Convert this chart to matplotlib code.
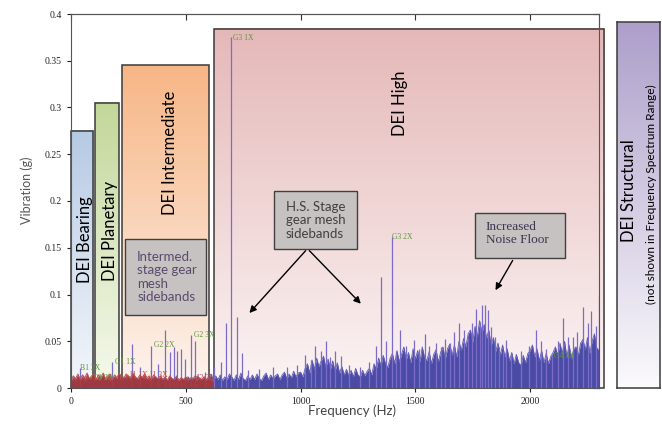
import numpy as np
import matplotlib.pyplot as plt
from matplotlib.colors import LinearSegmentedColormap

# spectrum noise floor, upper envelope every 10 Hz (milli-g)
step_hz = 10
floor_mg = [6, 9, 7, 12, 8, 10, 7, 9, 11, 8,
            7, 10, 8, 9, 12, 8, 10, 7, 9, 11,
            8, 10, 7, 12, 9, 11, 8, 13, 9, 10,
            8, 12, 9, 10, 7, 11, 9, 12, 8, 10,
            9, 11, 8, 12, 10, 9, 13, 8, 11, 9,
            10, 12, 8, 11, 9, 13, 10, 8, 12, 9,
            11, 15, 8, 13, 9, 14, 8, 12, 9, 15,
            12, 8, 14, 9, 16, 10, 8, 13, 9, 14,
            9, 15, 10, 8, 13, 16, 9, 14, 10, 13,
            15, 9, 14, 17, 10, 15, 11, 18, 12, 16,
            17, 12, 21, 26, 16, 30, 20, 32, 23, 29,
            34, 22, 31, 20, 29, 18, 27, 16, 23, 14,
            20, 13, 19, 12, 21, 14, 12, 19, 13, 18,
            21, 14, 26, 20, 32, 24, 35, 26, 22, 32,
            37, 26, 40, 28, 36, 44, 30, 38, 27, 42,
            31, 40, 28, 44, 33, 29, 39, 26, 36, 41,
            28, 38, 44, 31, 42, 47, 35, 46, 33, 50,
            40, 53, 44, 58, 62, 49, 66, 55, 72, 59,
            68, 53, 62, 45, 54, 39, 48, 35, 46, 33,
            42, 29, 38, 26, 36, 27, 24, 35, 27, 37,
            40, 46, 33, 42, 29, 40, 27, 37, 26, 34,
            38, 44, 35, 48, 37, 50, 33, 46, 31, 42,
            44, 35, 48, 52, 41, 54, 37, 50, 58, 43,
            40]

# second (red) trace, low frequency part only
red_mg = [8, 13, 10, 15, 9, 14, 11, 16, 10, 13,
          15, 9, 14, 11, 16, 10, 13, 15, 9, 14,
          11, 16, 12, 10, 15, 13, 11, 16, 12, 10,
          14, 11, 15, 10, 13, 9, 14, 11, 10, 13,
          9, 12, 8, 13, 10, 9, 12, 8, 11, 9,
          12, 8, 11, 9, 13, 8, 11, 9, 12, 8,
          11, 9, 7]

# discrete spectral lines
peak_hz = [40, 179, 266, 300, 349, 380, 410, 432, 450, 463, 480, 498, 524, 541,
           585, 624, 655, 677, 698, 725, 747, 773, 820, 878, 940, 985, 1020, 1044,
           1065, 1087, 1109, 1130, 1150, 1175, 1210, 1260, 1300, 1330, 1349, 1370,
           1397, 1415, 1432, 1460, 1493, 1515, 1541, 1560, 1590, 1610, 1629, 1650,
           1670, 1690, 1710, 1729, 1745, 1764, 1780, 1790, 1804, 1816, 1830, 1845,
           1865, 1880, 1895, 1915, 1960, 1995, 2026, 2048, 2070, 2095, 2120, 2144,
           2166, 2185, 2205, 2231, 2250, 2266, 2288, 2299]
peak_g = [0.021, 0.028, 0.047, 0.022, 0.045, 0.026, 0.062, 0.039, 0.044, 0.040,
          0.042, 0.031, 0.057, 0.050, 0.017, 0.022, 0.028, 0.069, 0.375, 0.076,
          0.037, 0.019, 0.020, 0.022, 0.022, 0.025, 0.035, 0.030, 0.045, 0.040,
          0.050, 0.033, 0.040, 0.034, 0.025, 0.022, 0.028, 0.045, 0.119, 0.050,
          0.161, 0.040, 0.062, 0.045, 0.051, 0.042, 0.058, 0.045, 0.048, 0.044,
          0.052, 0.048, 0.060, 0.069, 0.062, 0.053, 0.070, 0.085, 0.070, 0.089,
          0.089, 0.083, 0.065, 0.055, 0.044, 0.040, 0.051, 0.035, 0.040, 0.045,
          0.062, 0.050, 0.042, 0.035, 0.050, 0.075, 0.055, 0.055, 0.060, 0.087,
          0.070, 0.082, 0.066, 0.100]

# frequency bands
band_names = ['DEI Bearing', 'DEI Planetary', 'DEI Intermediate', 'DEI High']
band_lo = [0, 105, 224, 624]
band_hi = [96, 208, 602, 2323]
band_top = [0.275, 0.305, 0.345, 0.384]
band_top_col = ['#b6cae4', '#c3d79a', '#f7b686', '#e5b8b8']
band_bot_col = ['#f4f7fb', '#f5f9ec', '#fdf4ef', '#fcf4f4']
band_label_x = [61, 170, 431, 1432]
band_label_y = [0.159, 0.168, 0.252, 0.305]

# harmonic labels
harm_text = ['G3 1X', 'G3 2X', 'G2 3X', 'G2 2X', 'G1 1X', 'B1 2X', 'P1 2X', 'G4 3X']
harm_x = [707, 1400, 537, 362, 192, 40, 100, 2105]
harm_y = [0.374, 0.161, 0.057, 0.046, 0.028, 0.021, 0.011, 0.034]
red_text = ['I1 1X', 'I1 3X', 'I2 2X']
red_x = [258, 345, 550]
red_y = [0.014, 0.014, 0.011]

# callouts: box (x0, x1, y0, y1), text anchor
call_text = ['Intermed.\nstage gear\nmesh\nsidebands', 'H.S. Stage\ngear mesh\nsidebands',
             'Increased\nNoise Floor']
call_box = [(237, 590, 0.078, 0.159), (886, 1245, 0.149, 0.211), (1760, 2153, 0.139, 0.187)]
call_xy = [(288, 0.1185), (936, 0.1795), (1807, 0.165)]
call_font = ['Lato', 'Lato', 'Liberation Serif']
call_color = ['#5b4a6b', '#404040', '#3a3550']


def gradient(axis, x0, x1, y0, y1, top, bottom, z):
    cm = LinearSegmentedColormap.from_list('g', [bottom, top])
    img = np.linspace(1, 0, 256).reshape(-1, 1)
    im = axis.imshow(img, cmap=cm, extent=(x0, x1, y0, y1), aspect='auto',
                     origin='upper', zorder=z, vmin=0, vmax=1)
    im.set_clip_on(False)


fig = plt.figure(figsize=(6.62, 4.24), dpi=100)
ax = fig.add_axes([71 / 662, 36 / 424, 528 / 662, 374 / 424])

for i in range(len(band_names)):
    gradient(ax, band_lo[i], band_hi[i], 0, band_top[i], band_top_col[i], band_bot_col[i], 1)
    r = plt.Rectangle((band_lo[i], 0), band_hi[i] - band_lo[i], band_top[i], fill=False,
                      edgecolor='#3a3a3a', lw=1.1, zorder=2, clip_on=False)
    ax.add_patch(r)
    ax.text(band_label_x[i], band_label_y[i], band_names[i], rotation=90, ha='center',
            va='center', fontsize=12, family='Lato', color='black', zorder=6)

freq = np.arange(len(floor_mg)) * step_hz
floor = np.array(floor_mg) / 1000
ax.fill_between(freq, 0, floor, color='#4b4ba6', lw=0, zorder=3)
ax.plot(freq, floor, color='#5c5cb4', lw=0.6, zorder=3)
ax.vlines(peak_hz, 0, peak_g, color='#7a6cc8', lw=0.9, zorder=3)

rfreq = np.arange(len(red_mg)) * step_hz
red = np.array(red_mg) / 1000
ax.fill_between(rfreq, 0, red, color='#a83838', lw=0, zorder=4, alpha=0.9)
ax.plot(rfreq, red, color='#c05050', lw=0.7, zorder=4)

for t, x, y in zip(harm_text, harm_x, harm_y):
    ax.text(x, y, t, fontsize=5.5, family='Liberation Serif', color='#5a9a3c',
            va='center', ha='left', zorder=6)
for t, x, y in zip(red_text, red_x, red_y):
    ax.text(x, y, t, fontsize=5.5, family='Liberation Serif', color='#c04848',
            va='center', ha='left', zorder=6)

for t, (x0, x1, y0, y1), (tx, ty), fam, col in zip(call_text, call_box, call_xy,
                                                     call_font, call_color):
    ax.add_patch(plt.Rectangle((x0, y0), x1 - x0, y1 - y0, facecolor='#c6c2c2',
                               edgecolor='#404040', lw=1.0, zorder=7))
    ax.text(tx, ty, t, fontsize=9.5, family=fam, color=col, va='center', ha='left',
            linespacing=1.15, zorder=8)

arrow_kw = dict(arrowstyle='-|>', color='black', lw=1.0, mutation_scale=10)
ax.annotate('', xy=(769, 0.078), xytext=(1030, 0.149), arrowprops=arrow_kw, zorder=7)
ax.annotate('', xy=(1271, 0.088), xytext=(1030, 0.149), arrowprops=arrow_kw, zorder=7)
ax.annotate('', xy=(1843, 0.102), xytext=(1930, 0.139), arrowprops=arrow_kw, zorder=7)

ax.set_xlim(0, 2300)
ax.set_ylim(0, 0.4)
xt = [0, 500, 1000, 1500, 2000]
yt = np.arange(0, 0.401, 0.05)
ax.set_xticks(xt)
ax.set_yticks(yt)
ax.set_yticklabels(['0', '0.05', '0.1', '0.15', '0.2', '0.25', '0.3', '0.35', '0.4'])
ax.tick_params(axis='both', labelsize=7, colors='#222222', length=3, width=0.8,
               direction='out')
for lab in ax.get_xticklabels() + ax.get_yticklabels():
    lab.set_family('Liberation Serif')
top = ax.secondary_xaxis('top')
top.set_xticks(xt)
top.tick_params(direction='in', length=4, labeltop=False, color='#333333')
right = ax.secondary_yaxis('right')
right.set_yticks(yt)
right.tick_params(direction='in', length=4, labelright=False, color='#333333')
for s in list(ax.spines.values()) + list(top.spines.values()) + list(right.spines.values()):
    s.set_color('#555555')
    s.set_zorder(5)

fig.text(27 / 662, 1 - 190 / 424, 'Vibration (g)', rotation=90, ha='center', va='center',
         fontsize=9, family='Lato', color='#555555')
fig.text(352 / 662, 1 - 411 / 424, 'Frequency (Hz)', ha='center', va='center',
         fontsize=9.5, family='Lato', color='#444444')

# structural band, outside the plotted range
ax2 = fig.add_axes([617 / 662, 36 / 424, 43 / 662, 366 / 424])
gradient(ax2, 0, 1, 0, 1, '#ad9fca', '#fbfafc', 1)
ax2.set_xlim(0, 1)
ax2.set_ylim(0, 1)
ax2.set_xticks([])
ax2.set_yticks([])
for s in ax2.spines.values():
    s.set_color('#3a3a3a')
    s.set_linewidth(1.1)
ax2.text(0.28, 0.54, 'DEI Structural', rotation=90, ha='center', va='center',
         fontsize=12, family='Lato', color='black')
ax2.text(0.8, 0.53, '(not shown in Frequency Spectrum Range)', rotation=90, ha='center',
         va='center', fontsize=8.5, family='Lato', color='black')

fig.savefig('out.png', dpi=100)
